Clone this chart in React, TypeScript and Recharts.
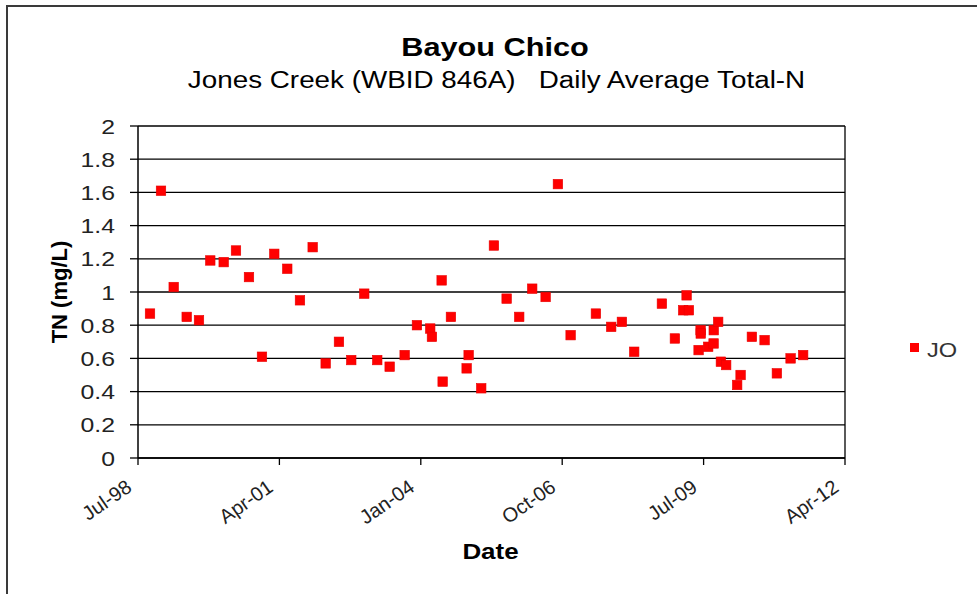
import React from "react";
import {
  ScatterChart,
  Scatter,
  XAxis,
  YAxis,
  CartesianGrid,
  ReferenceLine,
  Legend,
} from "recharts";

// Sample dates and daily average Total-N (mg/L)
const DATES = [
  "1998-09-25", "1998-12-12", "1999-03-11", "1999-06-12", "1999-09-08",
  "1999-11-27", "2000-03-01", "2000-05-27", "2000-08-28", "2000-11-29",
  "2001-02-25", "2001-05-26", "2001-08-25", "2001-11-24", "2002-02-25",
  "2002-05-28", "2002-08-24", "2002-11-25", "2003-02-26", "2003-05-23",
  "2003-09-08", "2003-12-04", "2004-03-07", "2004-03-19", "2004-05-27",
  "2004-06-04", "2004-08-02", "2004-11-22", "2004-12-06", "2005-03-04",
  "2005-06-03", "2005-09-02", "2005-11-30", "2006-03-01", "2006-06-05",
  "2006-09-01", "2006-11-30", "2007-05-27", "2007-09-14", "2007-11-29",
  "2008-02-25", "2008-09-09", "2008-12-10", "2009-02-08", "2009-03-02",
  "2009-03-18", "2009-05-26", "2009-06-10", "2009-06-11", "2009-08-03",
  "2009-09-11", "2009-09-12", "2009-10-13", "2009-11-02", "2009-12-09",
  "2010-02-26", "2010-03-20", "2010-06-09", "2010-09-08", "2010-12-04",
  "2011-03-10", "2011-06-08",
];
const TN = [
  0.87, 1.61, 1.03, 0.85, 0.83,
  1.19, 1.18, 1.25, 1.09, 0.61,
  1.23, 1.14, 0.95, 1.27, 0.57,
  0.70, 0.59, 0.99, 0.59, 0.55,
  0.62, 0.80, 0.78, 0.73, 1.07,
  0.46, 0.85, 0.54, 0.62, 0.42,
  1.28, 0.96, 0.85, 1.02, 0.97,
  1.65, 0.74, 0.87, 0.79, 0.82,
  0.64, 0.93, 0.72, 0.89, 0.98,
  0.89, 0.65, 0.77, 0.75, 0.67,
  0.69, 0.77, 0.82, 0.58, 0.56,
  0.44, 0.50, 0.73, 0.71, 0.51,
  0.60, 0.62,
];
const SERIES_NAME = "JO";
const X_TICKS = [0, 33, 66, 99, 132, 165]; // months since Jul-98
const X_TICK_LABELS = ["Jul-98", "Apr-01", "Jan-04", "Oct-06", "Jul-09", "Apr-12"];
const Y_TICKS = [0, 0.2, 0.4, 0.6, 0.8, 1, 1.2, 1.4, 1.6, 1.8, 2];
const TITLE = "Bayou Chico";
const SUBTITLE = "Jones Creek (WBID 846A)   Daily Average Total-N";
const X_LABEL = "Date";
const Y_LABEL = "TN (mg/L)";

function monthsSinceJul98(s: string): number {
  const [y, m, d] = s.split("-").map(Number);
  return (y - 1998) * 12 + (m - 7) + (d - 1) / 30;
}

const data = DATES.map((d, i) => ({ x: monthsSinceJul98(d), y: TN[i] }));

const FONT = "Arial, 'Liberation Sans', Helvetica, sans-serif";
const SX = 1.18;

const YTick = (props: any) => {
  const { x, y, payload } = props;
  const v = String(Math.round(payload.value * 10) / 10);
  return (
    <text
      transform={`translate(${x},${y}) scale(${SX},1)`}
      textAnchor="end"
      dy="0.36em"
      fontSize={21}
      fill="#222"
      fontFamily={FONT}
    >
      {v}
    </text>
  );
};

const XTick = (props: any) => {
  const { x, y, payload } = props;
  const idx = X_TICKS.indexOf(payload.value);
  const label = idx >= 0 ? X_TICK_LABELS[idx] : "";
  return (
    <g transform={`translate(${x - 5},${y + 23}) rotate(-35)`}>
      <text textAnchor="end" fontSize={20} fill="#222" fontFamily={FONT}>
        {label}
      </text>
    </g>
  );
};

const SquareDot = (props: any) => {
  const { cx, cy } = props;
  if (cx == null || cy == null) return null;
  return <rect x={cx - 4.75} y={cy - 4.75} width={9.5} height={9.5} fill="#ff0000" stroke="#e80000" strokeWidth={0.6} />;
};

const LegendContent = () => (
  <svg width={70} height={30}>
    <rect x={5} y={8} width={9} height={9} fill="#ff0000" />
    <text
      transform={`translate(22,21.5) scale(${SX},1)`}
      fontSize={20}
      fill="#333"
      fontFamily={FONT}
    >
      {SERIES_NAME}
    </text>
  </svg>
);

export default function App() {
  return (
    <div style={{ position: "relative", width: 977, height: 594, overflow: "hidden", background: "#fff" }}>
      <style>{"html,body{margin:0;padding:0;}"}</style>
      <div style={{ position: "absolute", left: 0, top: 0, width: 977, height: 594 }}>
        <ScatterChart
          width={977}
          height={594}
          margin={{ top: 126, right: 132, bottom: 76, left: 0 }}
        >
          <CartesianGrid horizontal vertical={false} stroke="#000" strokeWidth={1.3} />
          <XAxis
            type="number"
            dataKey="x"
            domain={[0, 165]}
            ticks={X_TICKS}
            interval={0}
            height={60}
            tickSize={7}
            tickMargin={2}
            axisLine={{ stroke: "#000", strokeWidth: 1.5 }}
            tickLine={{ stroke: "#000", strokeWidth: 1.3 }}
            tick={<XTick />}
            allowDataOverflow
          />
          <YAxis
            type="number"
            dataKey="y"
            domain={[0, 2]}
            ticks={Y_TICKS}
            interval={0}
            width={138}
            tickSize={8}
            tickMargin={15}
            axisLine={{ stroke: "#000", strokeWidth: 1.5 }}
            tickLine={{ stroke: "#000", strokeWidth: 1.3 }}
            tick={<YTick />}
          />
          <ReferenceLine x={165} stroke="#000" strokeWidth={1.3} />
          <Legend
            layout="horizontal"
            verticalAlign="middle"
            align="center"
            content={<LegendContent />}
            wrapperStyle={{ left: 905, top: 335, width: 70 }}
          />
          <Scatter
            name={SERIES_NAME}
            data={data}
            shape={<SquareDot />}
            isAnimationActive={false}
          />
        </ScatterChart>
      </div>
      <svg
        width={977}
        height={594}
        style={{ position: "absolute", left: 0, top: 0, pointerEvents: "none", zIndex: 5 }}
      >
        <rect x={6} y={5} width={2} height={594} fill="#3a3a3a" />
        <rect x={6} y={5} width={971} height={2} fill="#3a3a3a" />
        <text
          transform={`translate(495,55.5) scale(${SX},1)`}
          textAnchor="middle"
          fontSize={26}
          fontWeight="bold"
          fill="#000"
          fontFamily={FONT}
        >
          {TITLE}
        </text>
        <text
          transform={`translate(496.5,88) scale(1.21,1)`}
          textAnchor="middle"
          fontSize={23}
          fill="#000"
          fontFamily={FONT}
          style={{ whiteSpace: "pre" }}
          xmlSpace="preserve"
        >
          {SUBTITLE}
        </text>
        <text
          transform={`translate(490.5,559) scale(${SX},1)`}
          textAnchor="middle"
          fontSize={22}
          fontWeight="bold"
          fill="#000"
          fontFamily={FONT}
        >
          {X_LABEL}
        </text>
        <text
          transform={`translate(67,292) rotate(-90)`}
          textAnchor="middle"
          fontSize={22}
          fontWeight="bold"
          fill="#000"
          fontFamily={FONT}
        >
          {Y_LABEL}
        </text>
      </svg>
    </div>
  );
}
